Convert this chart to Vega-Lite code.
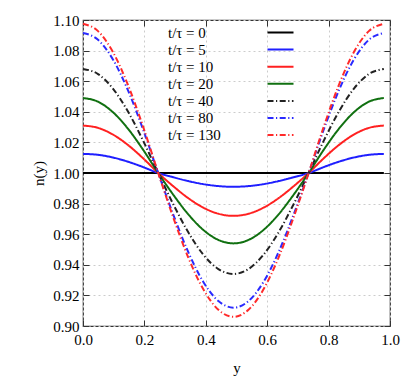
{
  "$schema": "https://vega.github.io/schema/vega-lite/v6.json",
  "width": 307,
  "height": 306,
  "autosize": {"type": "none"},
  "padding": {"left": 83, "top": 20, "right": 17, "bottom": 54},
  "config": {
    "font": "Liberation Serif",
    "view": {"stroke": "#333333", "strokeWidth": 1.2},
    "axis": {
      "labelFont": "Liberation Serif",
      "titleFont": "Liberation Serif",
      "labelFontSize": 15,
      "titleFontSize": 15,
      "titleFontWeight": "normal",
      "labelColor": "#000000",
      "titleColor": "#000000",
      "labelFlush": false,
      "labelOverlap": false,
      "domain": false,
      "tickColor": "#333333",
      "tickSize": -6,
      "gridColor": "#cccccc",
      "gridDash": [2, 3],
      "gridWidth": 1
    }
  },
  "data": {
    "values": [
      {"y": 0.000, "t0": 1, "t5": 1.0125, "t10": 1.031, "t20": 1.049, "t40": 1.068, "t80": 1.0915, "t130": 1.0975},
      {"y": 0.049, "t0": 1, "t5": 1.01189, "t10": 1.02948, "t20": 1.0466, "t40": 1.06467, "t80": 1.08702, "t130": 1.09273},
      {"y": 0.098, "t0": 1, "t5": 1.01011, "t10": 1.02508, "t20": 1.03964, "t40": 1.05501, "t80": 1.07403, "t130": 1.07888},
      {"y": 0.147, "t0": 1, "t5": 1.00735, "t10": 1.01822, "t20": 1.0288, "t40": 1.03997, "t80": 1.05378, "t130": 1.05731},
      {"y": 0.196, "t0": 1, "t5": 1.00386, "t10": 1.00958, "t20": 1.01514, "t40": 1.02101, "t80": 1.02828, "t130": 1.03013},
      {"y": 0.245, "t0": 1, "t5": 1, "t10": 1, "t20": 1, "t40": 1, "t80": 1, "t130": 1},
      {"y": 0.294, "t0": 1, "t5": 0.99722, "t10": 0.99135, "t20": 0.98579, "t40": 0.9796, "t80": 0.97281, "t130": 0.97095},
      {"y": 0.343, "t0": 1, "t5": 0.99471, "t10": 0.98354, "t20": 0.97296, "t40": 0.96121, "t80": 0.94827, "t130": 0.94475},
      {"y": 0.392, "t0": 1, "t5": 0.99272, "t10": 0.97735, "t20": 0.96279, "t40": 0.9466, "t80": 0.92881, "t130": 0.92395},
      {"y": 0.441, "t0": 1, "t5": 0.99144, "t10": 0.97337, "t20": 0.95625, "t40": 0.93723, "t80": 0.91631, "t130": 0.9106},
      {"y": 0.490, "t0": 1, "t5": 0.991, "t10": 0.972, "t20": 0.954, "t40": 0.934, "t80": 0.912, "t130": 0.906},
      {"y": 0.539, "t0": 1, "t5": 0.99144, "t10": 0.97337, "t20": 0.95625, "t40": 0.93723, "t80": 0.91631, "t130": 0.9106},
      {"y": 0.588, "t0": 1, "t5": 0.99272, "t10": 0.97735, "t20": 0.96279, "t40": 0.9466, "t80": 0.92881, "t130": 0.92395},
      {"y": 0.637, "t0": 1, "t5": 0.99471, "t10": 0.98354, "t20": 0.97296, "t40": 0.96121, "t80": 0.94827, "t130": 0.94475},
      {"y": 0.686, "t0": 1, "t5": 0.99722, "t10": 0.99135, "t20": 0.98579, "t40": 0.9796, "t80": 0.97281, "t130": 0.97095},
      {"y": 0.735, "t0": 1, "t5": 1, "t10": 1, "t20": 1, "t40": 1, "t80": 1, "t130": 1},
      {"y": 0.784, "t0": 1, "t5": 1.00386, "t10": 1.00958, "t20": 1.01514, "t40": 1.02101, "t80": 1.02828, "t130": 1.03013},
      {"y": 0.833, "t0": 1, "t5": 1.00735, "t10": 1.01822, "t20": 1.0288, "t40": 1.03997, "t80": 1.05378, "t130": 1.05731},
      {"y": 0.882, "t0": 1, "t5": 1.01011, "t10": 1.02508, "t20": 1.03964, "t40": 1.05501, "t80": 1.07403, "t130": 1.07888},
      {"y": 0.931, "t0": 1, "t5": 1.01189, "t10": 1.02948, "t20": 1.0466, "t40": 1.06467, "t80": 1.08702, "t130": 1.09273},
      {"y": 0.980, "t0": 1, "t5": 1.0125, "t10": 1.031, "t20": 1.049, "t40": 1.068, "t80": 1.0915, "t130": 1.0975}
    ]
  },
  "transform": [
    {"fold": ["t0", "t5", "t10", "t20", "t40", "t80", "t130"], "as": ["series", "n"]}
  ],
  "layer": [
    {
      "mark": {"type": "line", "interpolate": "monotone"},
      "encoding": {
        "x": {
          "field": "y", "type": "quantitative",
          "scale": {"domain": [0, 1], "nice": false},
          "axis": {"orient": "bottom", "title": "y", "values": [0, 0.2, 0.4, 0.6, 0.8, 1.0], "format": ".1f", "labelPadding": 12, "titlePadding": 13}
        },
        "y": {
          "field": "n", "type": "quantitative",
          "scale": {"domain": [0.9, 1.1], "nice": false, "zero": false},
          "axis": {"orient": "left", "title": "n(y)", "values": [0.9, 0.92, 0.94, 0.96, 0.98, 1.0, 1.02, 1.04, 1.06, 1.08, 1.1], "format": ".2f", "labelPadding": 10, "titlePadding": 6}
        },
        "color": {
          "field": "series", "type": "nominal",
          "scale": {
            "domain": ["t0", "t5", "t10", "t20", "t40", "t80", "t130"],
            "range": ["#000000", "#1f1fff", "#ff2020", "#107010", "#222222", "#2a2aff", "#ff2a2a"]
          },
          "legend": {
            "orient": "none", "legendX": 190, "legendY": 5,
            "title": null,
            "labelExpr": "{'t0':'t/τ = 0','t5':'t/τ = 5','t10':'t/τ = 10','t20':'t/τ = 20','t40':'t/τ = 40','t80':'t/τ = 80','t130':'t/τ = 130'}[datum.label]",
            "labelFont": "Liberation Serif", "labelFontSize": 15, "labelColor": "#000000",
            "labelAlign": "left", "labelOffset": -120,
            "symbolType": "M-2.6,0H2.6", "symbolSize": 100, "symbolStrokeWidth": 2,
            "rowPadding": 1.1
          }
        },
        "strokeDash": {
          "field": "series", "type": "nominal",
          "scale": {
            "domain": ["t0", "t5", "t10", "t20", "t40", "t80", "t130"],
            "range": [[1, 0], [1, 0], [1, 0], [1, 0], [6, 2.5, 1.2, 2.5], [6, 2.5, 1.2, 2.5], [6, 2.5, 1.2, 2.5]]
          },
          "legend": null
        },
        "strokeWidth": {
          "field": "series", "type": "nominal",
          "scale": {
            "domain": ["t0", "t5", "t10", "t20", "t40", "t80", "t130"],
            "range": [2, 2, 2, 2, 0.85, 0.85, 0.85]
          },
          "legend": null
        }
      }
    },
    {
      "mark": {"type": "point", "opacity": 0},
      "encoding": {
        "x": {
          "field": "y", "type": "quantitative",
          "scale": {"domain": [0, 1], "nice": false},
          "axis": {"orient": "top", "title": null, "labels": false, "grid": false, "values": [0, 0.2, 0.4, 0.6, 0.8, 1.0]}
        },
        "y": {
          "field": "n", "type": "quantitative",
          "scale": {"domain": [0.9, 1.1], "nice": false, "zero": false},
          "axis": {"orient": "right", "title": null, "labels": false, "grid": false, "values": [0.9, 0.92, 0.94, 0.96, 0.98, 1.0, 1.02, 1.04, 1.06, 1.08, 1.1]}
        }
      }
    }
  ],
  "resolve": {"axis": {"x": "independent", "y": "independent"}}
}
